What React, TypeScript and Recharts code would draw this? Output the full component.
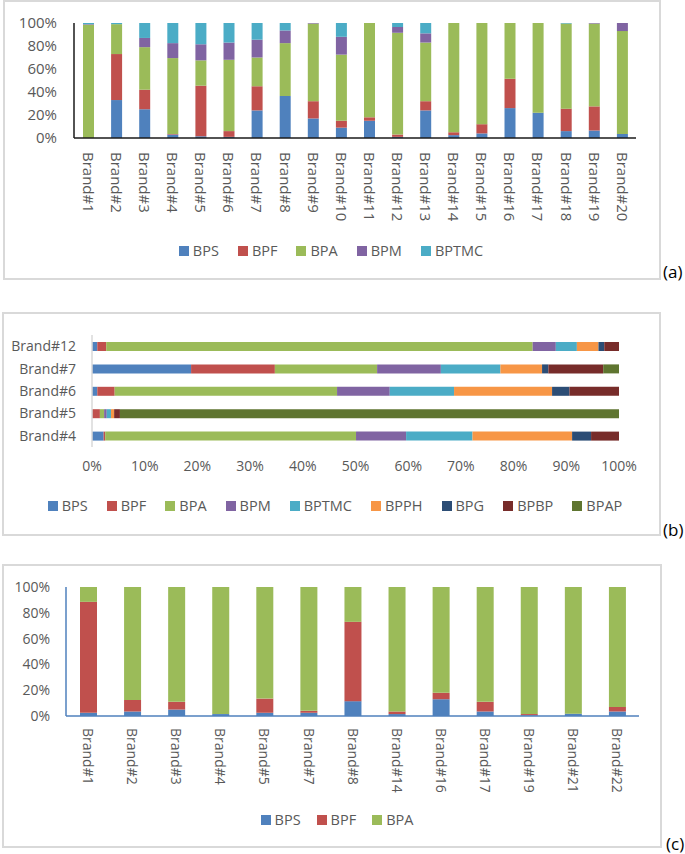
import React from 'react';
import { BarChart, Bar, XAxis, YAxis, Legend } from 'recharts';

const FONT = '"Open Sans", "Noto Sans", sans-serif';
const TEXT = '#595959';

// ---------- Panel (a) ----------
const brandsA = ['Brand#1', 'Brand#2', 'Brand#3', 'Brand#4', 'Brand#5', 'Brand#6', 'Brand#7', 'Brand#8', 'Brand#9', 'Brand#10',
  'Brand#11', 'Brand#12', 'Brand#13', 'Brand#14', 'Brand#15', 'Brand#16', 'Brand#17', 'Brand#18', 'Brand#19', 'Brand#20'];
const bpsA = [0, 33, 25, 3, 1.5, 1, 24, 36.5, 17, 9, 15, 1, 24, 2.5, 4, 26, 22, 6, 6.5, 3.5];
const bpfA = [0, 40, 17, 0.5, 44, 5, 21, 0, 15, 6, 3, 2, 8, 2.5, 8, 25.5, 0, 19.5, 21, 0];
const bpaA = [98.5, 26, 37, 66, 22, 62, 25, 46, 67.5, 57.5, 82, 88.5, 51, 95, 88, 48.5, 78, 74, 72, 89.5];
const bpmA = [0.5, 0, 8, 13, 14, 15, 15.5, 11, 0.5, 15.5, 0, 5, 8, 0, 0, 0, 0, 0, 0.5, 7];
const bptmcA = [1, 1, 13, 17.5, 18.5, 17, 14.5, 6.5, 0, 12, 0, 3.5, 9, 0, 0, 0, 0, 0.5, 0, 0];

// ---------- Panel (b) ----------
const brandsB = ['Brand#12', 'Brand#7', 'Brand#6', 'Brand#5', 'Brand#4'];
const bpsB = [1, 18.8, 1, 0, 2.2];
const bpfB = [1.7, 15.9, 3.3, 1.5, 0.3];
const bpaB = [81, 19.4, 42.2, 0.8, 47.6];
const bpmB = [4.4, 12.1, 10, 0.5, 9.5];
const bptmcB = [4, 11.3, 12.2, 0.8, 12.6];
const bpphB = [4.1, 7.9, 18.6, 0.6, 18.9];
const bpgB = [1.1, 1.2, 3.3, 0, 3.6];
const bpbpB = [2.8, 10.4, 9.4, 1.1, 5.3];
const bpapB = [0, 3, 0, 94.7, 0];

// ---------- Panel (c) ----------
const brandsC = ['Brand#1', 'Brand#2', 'Brand#3', 'Brand#4', 'Brand#5', 'Brand#7', 'Brand#8', 'Brand#14', 'Brand#16',
  'Brand#17', 'Brand#19', 'Brand#21', 'Brand#22'];
const bpsC = [2.5, 3.5, 5, 1.5, 2.5, 2.5, 11.5, 1.5, 13, 3.5, 0.5, 1.8, 3.5];
const bpfC = [86, 9, 6, 0, 11, 1.5, 61.5, 2, 5, 7.5, 1, 0, 3.5];
const bpaC = [11.5, 87.5, 89, 98.5, 86.5, 96, 27, 96.5, 82, 89, 98.5, 98.2, 93];

const ticks5 = [0, 0.2, 0.4, 0.6, 0.8, 1];
const ticks10 = [0, 0.1, 0.2, 0.3, 0.4, 0.5, 0.6, 0.7, 0.8, 0.9, 1];

const SERIES = [
  { key: 'BPS', color: '#4F81BD' },
  { key: 'BPF', color: '#C0504D' },
  { key: 'BPA', color: '#9BBB59' },
  { key: 'BPM', color: '#8064A2' },
  { key: 'BPTMC', color: '#4BACC6' },
  { key: 'BPPH', color: '#F79646' },
  { key: 'BPG', color: '#2C4D75' },
  { key: 'BPBP', color: '#772C2A' },
  { key: 'BPAP', color: '#5F7530' },
];

const dataA = brandsA.map((b, i) => ({ brand: b, BPS: bpsA[i], BPF: bpfA[i], BPA: bpaA[i], BPM: bpmA[i], BPTMC: bptmcA[i] }));
const dataB = brandsB.map((b, i) => ({
  brand: b, BPS: bpsB[i], BPF: bpfB[i], BPA: bpaB[i], BPM: bpmB[i], BPTMC: bptmcB[i],
  BPPH: bpphB[i], BPG: bpgB[i], BPBP: bpbpB[i], BPAP: bpapB[i],
}));
const dataC = brandsC.map((b, i) => ({ brand: b, BPS: bpsC[i], BPF: bpfC[i], BPA: bpaC[i] }));

const pct = (v: number) => `${Math.round(v * 100)}%`;

const VTick = (props: any) => {
  const { x, y, payload, fontSize } = props;
  return (
    <text x={x} y={y} transform={`rotate(90, ${x}, ${y})`} textAnchor="start" dy="0.35em"
      fill={TEXT} fontSize={fontSize} fontFamily={FONT}>
      {payload.value}
    </text>
  );
};

const makeLegend = (n: number, gap: number) => () => (
  <div style={{ display: 'flex', justifyContent: 'center', gap, fontFamily: FONT, fontSize: 14.5, color: TEXT, lineHeight: '20px' }}>
    {SERIES.slice(0, n).map((s) => (
      <div key={s.key} style={{ display: 'flex', alignItems: 'center' }}>
        <span style={{ display: 'inline-block', width: 10, height: 10, background: s.color, marginRight: 4 }} />
        {s.key}
      </div>
    ))}
  </div>
);

const panelStyle = (left: number, top: number, width: number, height: number): React.CSSProperties => ({
  position: 'absolute', left, top, width, height, boxSizing: 'border-box', border: '2px solid #D9D9D9', background: '#fff',
});

const tagStyle = (left: number, top: number): React.CSSProperties => ({
  position: 'absolute', left, top, fontFamily: FONT, fontSize: 17, color: '#000', lineHeight: '20px',
});

export default function App() {
  return (
    <div style={{ position: 'absolute', left: 0, top: 0, width: 685, height: 854, background: '#fff' }}>
      <div style={panelStyle(3, 0, 658, 280)} />
      <div style={panelStyle(2, 312, 659, 224)} />
      <div style={panelStyle(2, 564, 660, 284)} />

      {/* (a) */}
      <div style={{ position: 'absolute', left: 0, top: 0 }}>
        <BarChart width={662} height={280} data={dataA} stackOffset="expand"
          margin={{ top: 23, right: 26, left: 0, bottom: 62 }}>
          <XAxis dataKey="brand" height={80} interval={0} tickLine={false} tickSize={6} tickMargin={8}
            axisLine={{ stroke: '#1a1a1a', strokeWidth: 1.5 }}
            tick={(p: any) => <VTick {...p} fontSize={15} />} />
          <YAxis width={74} domain={[0, 1]} ticks={ticks5} tickFormatter={pct} tickLine={false} tickSize={6} tickMargin={11}
            axisLine={{ stroke: '#1a1a1a', strokeWidth: 1.5 }}
            tick={{ fill: TEXT, fontSize: 15, fontFamily: FONT }} />
          <Legend layout="horizontal" verticalAlign="middle" align="center"
            wrapperStyle={{ top: 241, left: 0, width: 662 }} content={makeLegend(5, 19)} />
          {SERIES.slice(0, 5).map((s) => (
            <Bar key={s.key} dataKey={s.key} stackId="a" fill={s.color} barSize={11} isAnimationActive={false} />
          ))}
        </BarChart>
      </div>

      {/* (b) */}
      <div style={{ position: 'absolute', left: 0, top: 313 }}>
        <BarChart width={662} height={222} data={dataB} layout="vertical" stackOffset="expand"
          margin={{ top: 22, right: 43, left: 0, bottom: 58 }}>
          <XAxis type="number" domain={[0, 1]} ticks={ticks10} tickFormatter={pct} height={30}
            axisLine={false} tickLine={false} tickSize={6} tickMargin={8}
            tick={{ fill: TEXT, fontSize: 14, fontFamily: FONT }} />
          <YAxis type="category" dataKey="brand" width={92} interval={0} tickLine={false} tickSize={6} tickMargin={10}
            axisLine={{ stroke: '#D9D9D9', strokeWidth: 1.5 }}
            tick={{ fill: TEXT, fontSize: 14, fontFamily: FONT }} />
          <Legend layout="horizontal" verticalAlign="middle" align="center"
            wrapperStyle={{ top: 183, left: 4, width: 662 }} content={makeLegend(9, 19)} />
          {SERIES.map((s) => (
            <Bar key={s.key} dataKey={s.key} stackId="b" fill={s.color} barSize={9} isAnimationActive={false} />
          ))}
        </BarChart>
      </div>

      {/* (c) */}
      <div style={{ position: 'absolute', left: 0, top: 565 }}>
        <BarChart width={662} height={282} data={dataC} stackOffset="expand"
          margin={{ top: 22, right: 23, left: 0, bottom: 51 }}>
          <XAxis dataKey="brand" height={80} interval={0} tickLine={false} tickSize={6} tickMargin={6}
            axisLine={{ stroke: '#4F81BD', strokeWidth: 1.5 }}
            tick={(p: any) => <VTick {...p} fontSize={14} />} />
          <YAxis width={66} domain={[0, 1]} ticks={ticks5} tickFormatter={pct} tickLine={false} tickSize={6} tickMargin={10}
            axisLine={{ stroke: '#4F81BD', strokeWidth: 1.5 }}
            tick={{ fill: TEXT, fontSize: 14, fontFamily: FONT }} />
          <Legend layout="horizontal" verticalAlign="middle" align="center"
            wrapperStyle={{ top: 245, left: 6, width: 662 }} content={makeLegend(3, 16)} />
          {SERIES.slice(0, 3).map((s) => (
            <Bar key={s.key} dataKey={s.key} stackId="c" fill={s.color} barSize={17} isAnimationActive={false} />
          ))}
        </BarChart>
      </div>

      <div style={tagStyle(663, 262)}>(a)</div>
      <div style={tagStyle(663, 520)}>(b)</div>
      <div style={tagStyle(666, 834)}>(c)</div>
    </div>
  );
}
